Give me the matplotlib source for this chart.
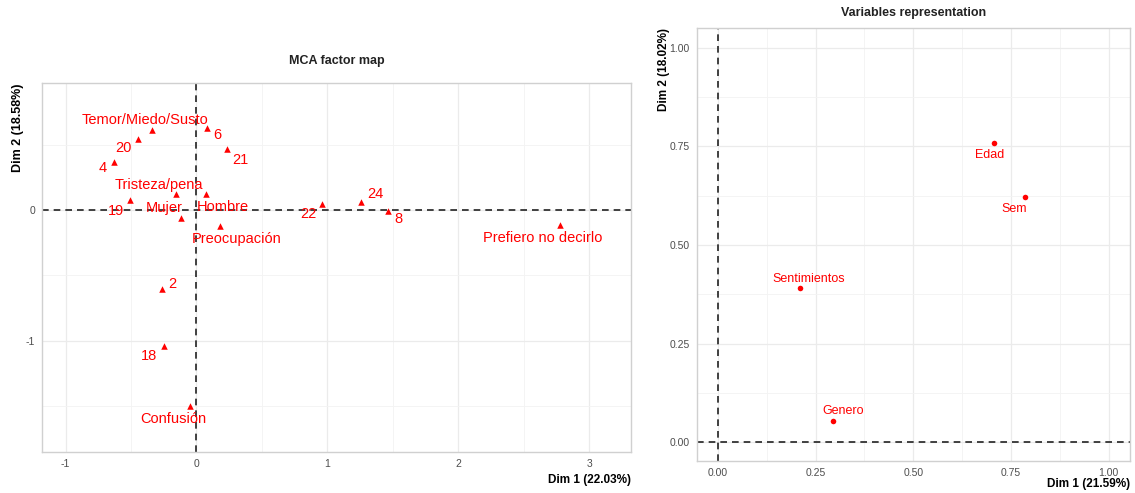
import matplotlib.pyplot as plt
from matplotlib.ticker import MultipleLocator
import numpy as np

plt.rcParams['font.family'] = ['Liberation Sans', 'DejaVu Sans']
plt.rcParams['axes.unicode_minus'] = False

# MCA factor map (categories)
cat_labels = ["Temor/Miedo/Susto", "20", "4", "6", "21", "Tristeza/pena", "19", "Mujer",
              "Hombre", "Preocupación", "22", "24", "8", "Prefiero no decirlo", "2", "18", "Confusión"]
cat_dim1 = [-0.34, -0.45, -0.63, 0.08, 0.23, -0.16, -0.51, -0.12,
            0.07, 0.18, 0.96, 1.26, 1.46, 2.78, -0.26, -0.245, -0.05]
cat_dim2 = [0.61, 0.54, 0.37, 0.63, 0.47, 0.12, 0.076, -0.06,
            0.12, -0.12, 0.046, 0.06, -0.008, -0.115, -0.60, -1.04, -1.50]
# label offsets in pixels (like ggrepel placement)
cat_offsets = [(-7, 10), (-14, -9), (-11, -6), (10, -7), (14, -11), (-17, 9), (-14, -11), (-17, 10),
               (17, -13), (17, -13), (-14, -10), (14, 8), (11, -8), (-18, -13), (10, 5), (-15, -10), (-17, -13)]

# variables representation
var_labels = ["Edad", "Sem", "Sentimientos", "Genero"]
var_dim1 = [0.706, 0.785, 0.21, 0.294]
var_dim2 = [0.759, 0.622, 0.39, 0.053]
var_offsets = [(-4, -12), (-10, -12), (9, 9), (10, 10)]

red = "#FF0000"
grid_col = "#EBEBEB"
tick_col = "#4D4D4D"


def style_axes(ax):
    ax.set_facecolor("white")
    for s in ax.spines.values():
        s.set_color("#D0D0D0")
        s.set_linewidth(1.0)
    ax.grid(which="major", color=grid_col, linewidth=0.9)
    ax.grid(which="minor", color="#F3F3F3", linewidth=0.6)
    ax.set_axisbelow(True)
    ax.tick_params(which="both", length=0, labelsize=7.5, labelcolor=tick_col, pad=5)


fig = plt.figure(figsize=(11.35, 4.93), dpi=100)

# left panel
ax1 = fig.add_axes([0.037, 0.0832, 0.519, 0.748])
style_axes(ax1)
ax1.set_xlim(-1.18, 3.32)
ax1.set_ylim(-1.85, 0.97)
ax1.xaxis.set_major_locator(MultipleLocator(1))
ax1.xaxis.set_minor_locator(MultipleLocator(0.5))
ax1.yaxis.set_major_locator(MultipleLocator(1))
ax1.yaxis.set_minor_locator(MultipleLocator(0.5))
ax1.axhline(0, color="#222222", linestyle=(0, (4, 3)), linewidth=1.2)
ax1.axvline(0, color="#222222", linestyle=(0, (4, 3)), linewidth=1.2)
ax1.scatter(cat_dim1, cat_dim2, marker="^", s=22, color=red, zorder=3, linewidths=0)
for lab, x, y, off in zip(cat_labels, cat_dim1, cat_dim2, cat_offsets):
    ax1.annotate(lab, (x, y), xytext=off, textcoords="offset pixels",
                 ha="center", va="center", color=red, fontsize=10.5)
ax1.text(0.5, 1.045, "MCA factor map", transform=ax1.transAxes, ha="center", va="bottom",
         fontsize=9, fontweight="bold", color="#222222")
ax1.set_xlabel("Dim 1 (22.03%)", loc="right", fontsize=8.5, fontweight="bold", labelpad=4)
ax1.set_ylabel("Dim 2 (18.58%)", loc="top", fontsize=9, fontweight="bold", labelpad=1)

# right panel
ax2 = fig.add_axes([0.614, 0.0649, 0.382, 0.878])
style_axes(ax2)
ax2.set_xlim(-0.054, 1.056)
ax2.set_ylim(-0.048, 1.05)
ax2.xaxis.set_major_locator(MultipleLocator(0.25))
ax2.xaxis.set_minor_locator(MultipleLocator(0.125))
ax2.yaxis.set_major_locator(MultipleLocator(0.25))
ax2.yaxis.set_minor_locator(MultipleLocator(0.125))
ax2.xaxis.set_major_formatter(lambda v, p: f"{v:.2f}")
ax2.yaxis.set_major_formatter(lambda v, p: f"{v:.2f}")
ax2.axhline(0, color="#222222", linestyle=(0, (4, 3)), linewidth=1.2)
ax2.axvline(0, color="#222222", linestyle=(0, (4, 3)), linewidth=1.2)
ax2.scatter(var_dim1, var_dim2, marker="o", s=16, color=red, zorder=3, linewidths=0)
for lab, x, y, off in zip(var_labels, var_dim1, var_dim2, var_offsets):
    ax2.annotate(lab, (x, y), xytext=off, textcoords="offset pixels",
                 ha="center", va="center", color=red, fontsize=9)
ax2.text(0.5, 1.02, "Variables representation", transform=ax2.transAxes, ha="center", va="bottom",
         fontsize=9, fontweight="bold", color="#222222")
ax2.set_xlabel("Dim 1 (21.59%)", loc="right", fontsize=8.5, fontweight="bold", labelpad=0)
ax2.set_ylabel("Dim 2 (18.02%)", loc="top", fontsize=8.5, fontweight="bold", labelpad=0)

fig.savefig("out.png", dpi=100)
